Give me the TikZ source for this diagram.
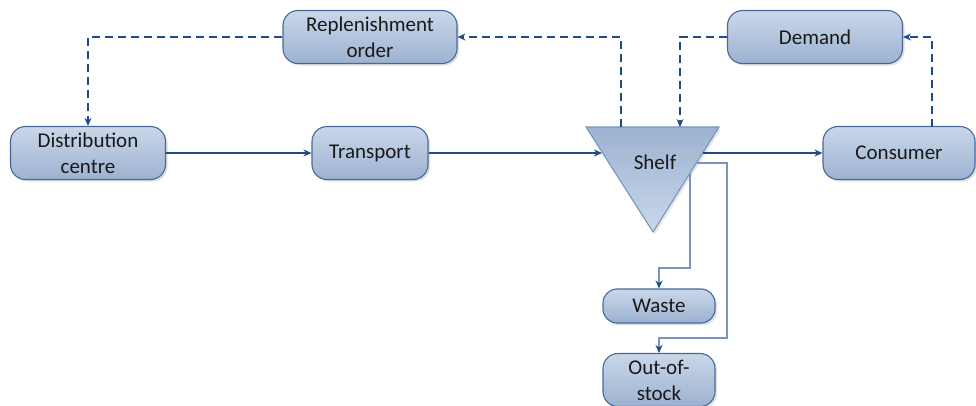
\documentclass[tikz,border=0pt]{standalone}
\usepackage{fontspec}
\setmainfont{Carlito}
\usetikzlibrary{arrows.meta, shadows}
\tikzset{>={Stealth[length=8pt,width=7pt]}}

\definecolor{boxline}{HTML}{46699A}
\definecolor{boxtop}{HTML}{CAD7E9}
\definecolor{boxbot}{HTML}{9CB2D1}
\definecolor{flow}{HTML}{1F4B85}
\definecolor{pale}{HTML}{7895BF}

\tikzset{
  box/.style={draw=boxline, line width=1.1pt, rounded corners=15pt,
    top color=boxtop, bottom color=boxbot, text=black!90,
    drop shadow={opacity=0.25, shadow xshift=2pt, shadow yshift=-2pt},
    align=center, inner sep=0pt, minimum height=53pt,
    font=\fontsize{21}{26}\selectfont},
  flowline/.style={->, flow, line width=1.1pt},
  paleline/.style={-{Stealth[length=8pt,width=7pt,color=flow]}, pale, line width=1.1pt},
  orderline/.style={->, flow, line width=1.1pt, dash pattern=on 8pt off 5pt},
}

\begin{document}
\begin{tikzpicture}[x=1pt, y=-1pt]
    \useasboundingbox (0,0) rectangle (976,405);

    % boxes
    \node[box, minimum width=155pt] (dc) at (88,153) {Distribution\\centre};
    \node[box, minimum width=116pt] (tr) at (370,153) {Transport};
    \node[box, minimum width=174pt] (rep) at (370,37) {Replenishment\\order};
    \node[box, minimum width=175pt] (dem) at (815,37) {Demand};
    \node[box, minimum width=152pt] (cons) at (899,153) {Consumer};
    \node[box, minimum width=112pt, minimum height=34pt, rounded corners=14pt] (waste) at (659,306) {Waste};
    \node[box, minimum width=112pt] (oos) at (659,380) {Out-of-\\stock};

    % shelf triangle
    \coordinate (s1) at (586,127);
    \coordinate (s2) at (719,127);
    \coordinate (s3) at (653,232);
    \path[draw=pale, line width=1.1pt, top color=boxbot, bottom color=boxtop,
          drop shadow={opacity=0.2, shadow xshift=2pt, shadow yshift=-2pt}]
        (s1) -- (s2) -- (s3) -- cycle;
    \node[font=\fontsize{21}{26}\selectfont, text=black!90] (shelf) at (655,162) {Shelf};

    % points on the shelf
    \coordinate (sin) at (602,153);
    \coordinate (sout) at (703,153);
    \coordinate (stop) at (621,127);
    \coordinate (sdem) at (680,127);
    \coordinate (w0) at (690,173);
    \coordinate (w1) at (690,268);
    \coordinate (o0) at (697,163);
    \coordinate (o1) at (727,163);
    \coordinate (o2) at (727,338);
    \coordinate (cn) at (932,127);

    % goods
    \draw[flowline] (dc) -- (tr);
    \draw[flowline] (tr) -- (sin);
    \draw[flowline] (sout) -- (cons);
    \draw[paleline] (w0) -- (w1) -| (waste.north);
    \draw[paleline] (o0) -- (o1) -- (o2) -| (oos.north);

    % orders
    \draw[orderline] (stop) |- (rep.east);
    \draw[orderline] (rep.west) -| (dc.north);
    \draw[orderline] (dem.west) -| (sdem);
    \draw[orderline] (cn) |- (dem.east);
\end{tikzpicture}
\end{document}
